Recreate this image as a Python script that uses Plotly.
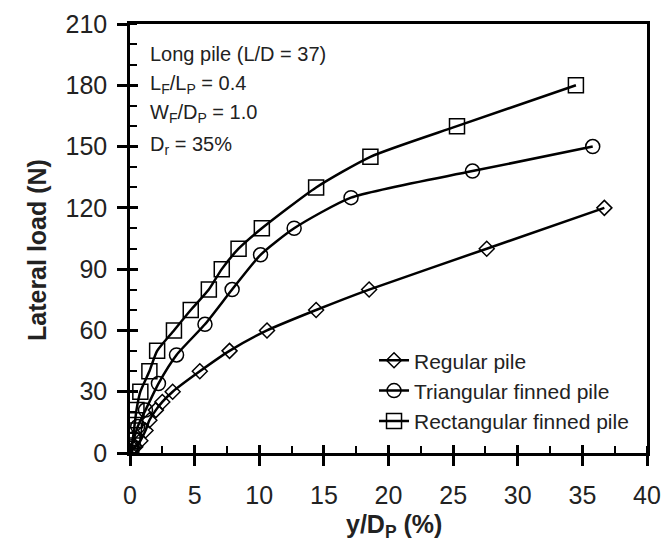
import plotly.graph_objects as go

# ---- data ----
regular_x = [0, 0.4, 0.8, 1.2, 1.5, 2.0, 2.5, 3.3, 5.4, 7.7, 10.6, 14.4, 18.5, 27.6, 36.7]
regular_y = [0, 3, 6, 11, 16, 21, 25, 30, 40, 50, 60, 70, 80, 100, 120]

tri_x = [0, 0.1, 0.3, 0.6, 1.2, 2.2, 3.6, 5.8, 7.9, 10.1, 12.7, 17.1, 26.5, 35.8]
tri_y = [0, 3, 7, 13, 21, 34, 48, 63, 80, 97, 110, 125, 138, 150]

rect_x = [0, 0.1, 0.2, 0.3, 0.4, 0.5, 0.8, 1.5, 2.1, 3.4, 4.7, 6.1, 7.1, 8.4, 10.2, 14.4, 18.6, 25.3, 34.5]
rect_y = [0, 2, 6, 11, 16, 21, 30, 40, 50, 60, 70, 80, 90, 100, 110, 130, 145, 160, 180]

series_names = ["Regular pile", "Triangular finned pile", "Rectangular finned pile"]
x_ticks = [0, 5, 10, 15, 20, 25, 30, 35, 40]
y_ticks = [0, 30, 60, 90, 120, 150, 180, 210]
notes = ["Long pile (L/D = 37)", "L<sub>F</sub>/L<sub>P</sub> = 0.4",
         "W<sub>F</sub>/D<sub>P</sub> = 1.0", "D<sub>r</sub> = 35%"]
notes_y = [195.5, 180.5, 166, 150.5]
x_title = "<b>y/D<sub>P</sub> (%)</b>"
y_title = "<b>Lateral load (N)</b>"

FONT = "Liberation Sans, Arial, sans-serif"
TXT = "#222"

fig = go.Figure()
specs = [(regular_x, regular_y, "diamond-open", 11.5),
         (tri_x, tri_y, "circle-open", 14),
         (rect_x, rect_y, "square-open", 15)]
for (xs, ys, sym, sz), name in zip(specs, series_names):
    fig.add_trace(go.Scatter(
        x=xs, y=ys, name=name, mode="lines+markers",
        line=dict(color="black", width=2.5, shape="spline", smoothing=0.6),
        marker=dict(symbol=sym, size=sz, color="black", line=dict(width=1.5, color="black")),
    ))

# invisible trace for overlay axes (inside part of the major ticks)
fig.add_trace(go.Scatter(x=[0], y=[0], xaxis="x2", yaxis="y2", mode="markers",
                         marker=dict(opacity=0), showlegend=False, hoverinfo="skip"))

axis_common = dict(showgrid=False, zeroline=False, linecolor="black", linewidth=2.5,
                   tickcolor="black", tickwidth=2.5, ticklen=10, automargin=False,
                   tickfont=dict(family=FONT, size=25, color=TXT))

fig.update_layout(
    width=665, height=544,
    margin=dict(l=130, r=18, t=24, b=91),
    paper_bgcolor="white", plot_bgcolor="white",
    font=dict(family=FONT, color=TXT),
    xaxis=dict(range=[0, 40], tickvals=x_ticks, ticks="outside", mirror=True, showline=True,
               ticklabelstandoff=8,
               minor=dict(ticks="inside", dtick=2.5, ticklen=7, tickwidth=2, tickcolor="black"),
               **axis_common),
    yaxis=dict(range=[0, 210], tickvals=y_ticks, ticks="outside", mirror=True, showline=True,
               ticklabelstandoff=5,
               minor=dict(ticks="inside", dtick=10, ticklen=7, tickwidth=2, tickcolor="black"),
               **axis_common),
    xaxis2=dict(range=[0, 40], tickvals=x_ticks, ticks="inside", overlaying="x", anchor="y",
                showticklabels=False, showline=False, showgrid=False, zeroline=False,
                tickcolor="black", tickwidth=2.5, ticklen=8, automargin=False),
    yaxis2=dict(range=[0, 210], tickvals=y_ticks, ticks="inside", overlaying="y", anchor="x",
                showticklabels=False, showline=False, showgrid=False, zeroline=False,
                tickcolor="black", tickwidth=2.5, ticklen=8, automargin=False),
    legend=dict(x=0.472, y=0.263, xanchor="left", yanchor="top", bgcolor="rgba(0,0,0,0)",
                font=dict(family=FONT, size=21, color=TXT), itemwidth=30, tracegroupgap=0),
    showlegend=True,
)

for txt, yv in zip(notes, notes_y):
    fig.add_annotation(x=1.4, y=yv, xref="x", yref="y", text=txt, showarrow=False,
                       xanchor="left", yanchor="middle",
                       font=dict(family=FONT, size=20, color=TXT))

fig.add_annotation(x=0.511, y=-0.17, xref="paper", yref="paper", text=x_title, showarrow=False,
                   xanchor="center", yanchor="middle", font=dict(family=FONT, size=25, color=TXT))
fig.add_annotation(x=-0.18, y=0.473, xref="paper", yref="paper", text=y_title, showarrow=False,
                   textangle=-90, xanchor="center", yanchor="middle",
                   font=dict(family=FONT, size=25, color=TXT))

fig.write_html("out.html")
